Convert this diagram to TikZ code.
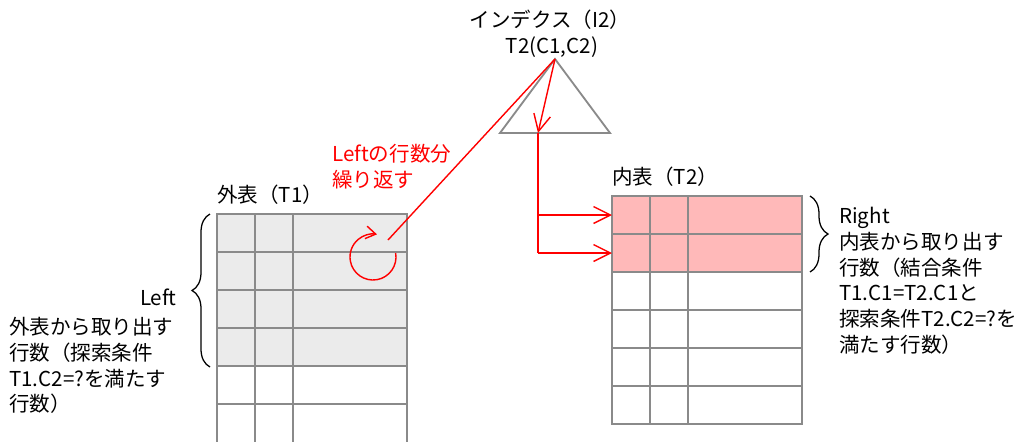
\documentclass[tikz,border=0pt]{standalone}
\usepackage{fontspec}
\setmainfont{Noto Sans CJK JP}
\usetikzlibrary{arrows.meta,decorations.pathreplacing}
\definecolor{linegray}{RGB}{138,138,138}
\definecolor{outergray}{RGB}{235,235,235}
\definecolor{innerpink}{RGB}{255,185,185}
\tikzset{
  cellbox/.style={draw=linegray,line width=1.3pt,line cap=rect},
  redline/.style={red,line width=1pt},
  hit/.style={-{Straight Barb[length=12pt,width=12pt]}},
  txt/.style={inner sep=0pt,font=\fontsize{14.6}{18.3}\selectfont,align=left},
  curly/.style={decorate,decoration={brace,amplitude=0.45cm},line width=0.9pt},
}
\begin{document}
\begin{tikzpicture}[x=0.025cm,y=-0.025cm]
   \useasboundingbox (0,0) rectangle (1020,441);
   % outer table
   \fill[outergray] (217,214) rectangle (407,366);
   \foreach \y in {214,252,...,404} \draw[cellbox] (217,\y)--(407,\y);
   \foreach \x in {217,255,293,407} \draw[cellbox] (\x,214)--(\x,441);
   % inner table
   \fill[innerpink] (612,196) rectangle (802,272);
   \foreach \y in {196,234,...,424} \draw[cellbox] (612,\y)--(802,\y);
   \foreach \x in {612,650,688,802} \draw[cellbox] (\x,196)--(\x,424);
   % index
   \coordinate (apex) at (555,59);
   \draw[cellbox,line cap=butt] (apex)--(610,133)--(500,133)--cycle;
   \node[txt] (iname) at (550,20) {インデクス（I2）};
   \node[txt] (icols) at (552,47) {T2(C1,C2)};
   \node[txt,anchor=west] (outer) at (217,195) {外表（T1）};
   \node[txt,anchor=west] (inner) at (612,177) {内表（T2）};
   \node[txt,anchor=north west,red] (repeat) at (332,144) {Leftの行数分\\繰り返す};
   \node[txt,anchor=east] (lname) at (177,297) {Left};
   \node[txt,anchor=north west] (ltext) at (9,317) {外表から取り出す\\行数（探索条件\\T1.C2=?を満たす\\行数）};
   \node[txt,anchor=north west] (rtext) at (839,207) {Right\\内表から取り出す\\行数（結合条件\\T1.C1=T2.C1と\\探索条件T2.C2=?を\\満たす行数）};
   \draw[curly] (210,367)--(210,214);
   \draw[curly] (810,196)--(810,272);
   % red loop
   \coordinate (spin) at (388,240);
   \coordinate (spinc) at (373,257);
   \coordinate (fork) at (538,133);
   \coordinate (bend1) at (538,215);
   \coordinate (bend2) at (538,253);
   \coordinate (row1) at (612,215);
   \coordinate (row2) at (612,253);
   \draw[redline] (apex)--(spin);
   \draw[redline,-{Straight Barb[length=7pt,width=9pt]}] ([shift={(10:0.575cm)}]spinc) arc[start angle=10,end angle=-280,radius=0.575cm];
   \draw[redline,hit] (apex)--(fork);
   \draw[redline] (fork)--(bend2);
   \draw[redline,hit] (bend1)--(row1);
   \draw[redline,hit] (bend2)--(row2);
\end{tikzpicture}
\end{document}
